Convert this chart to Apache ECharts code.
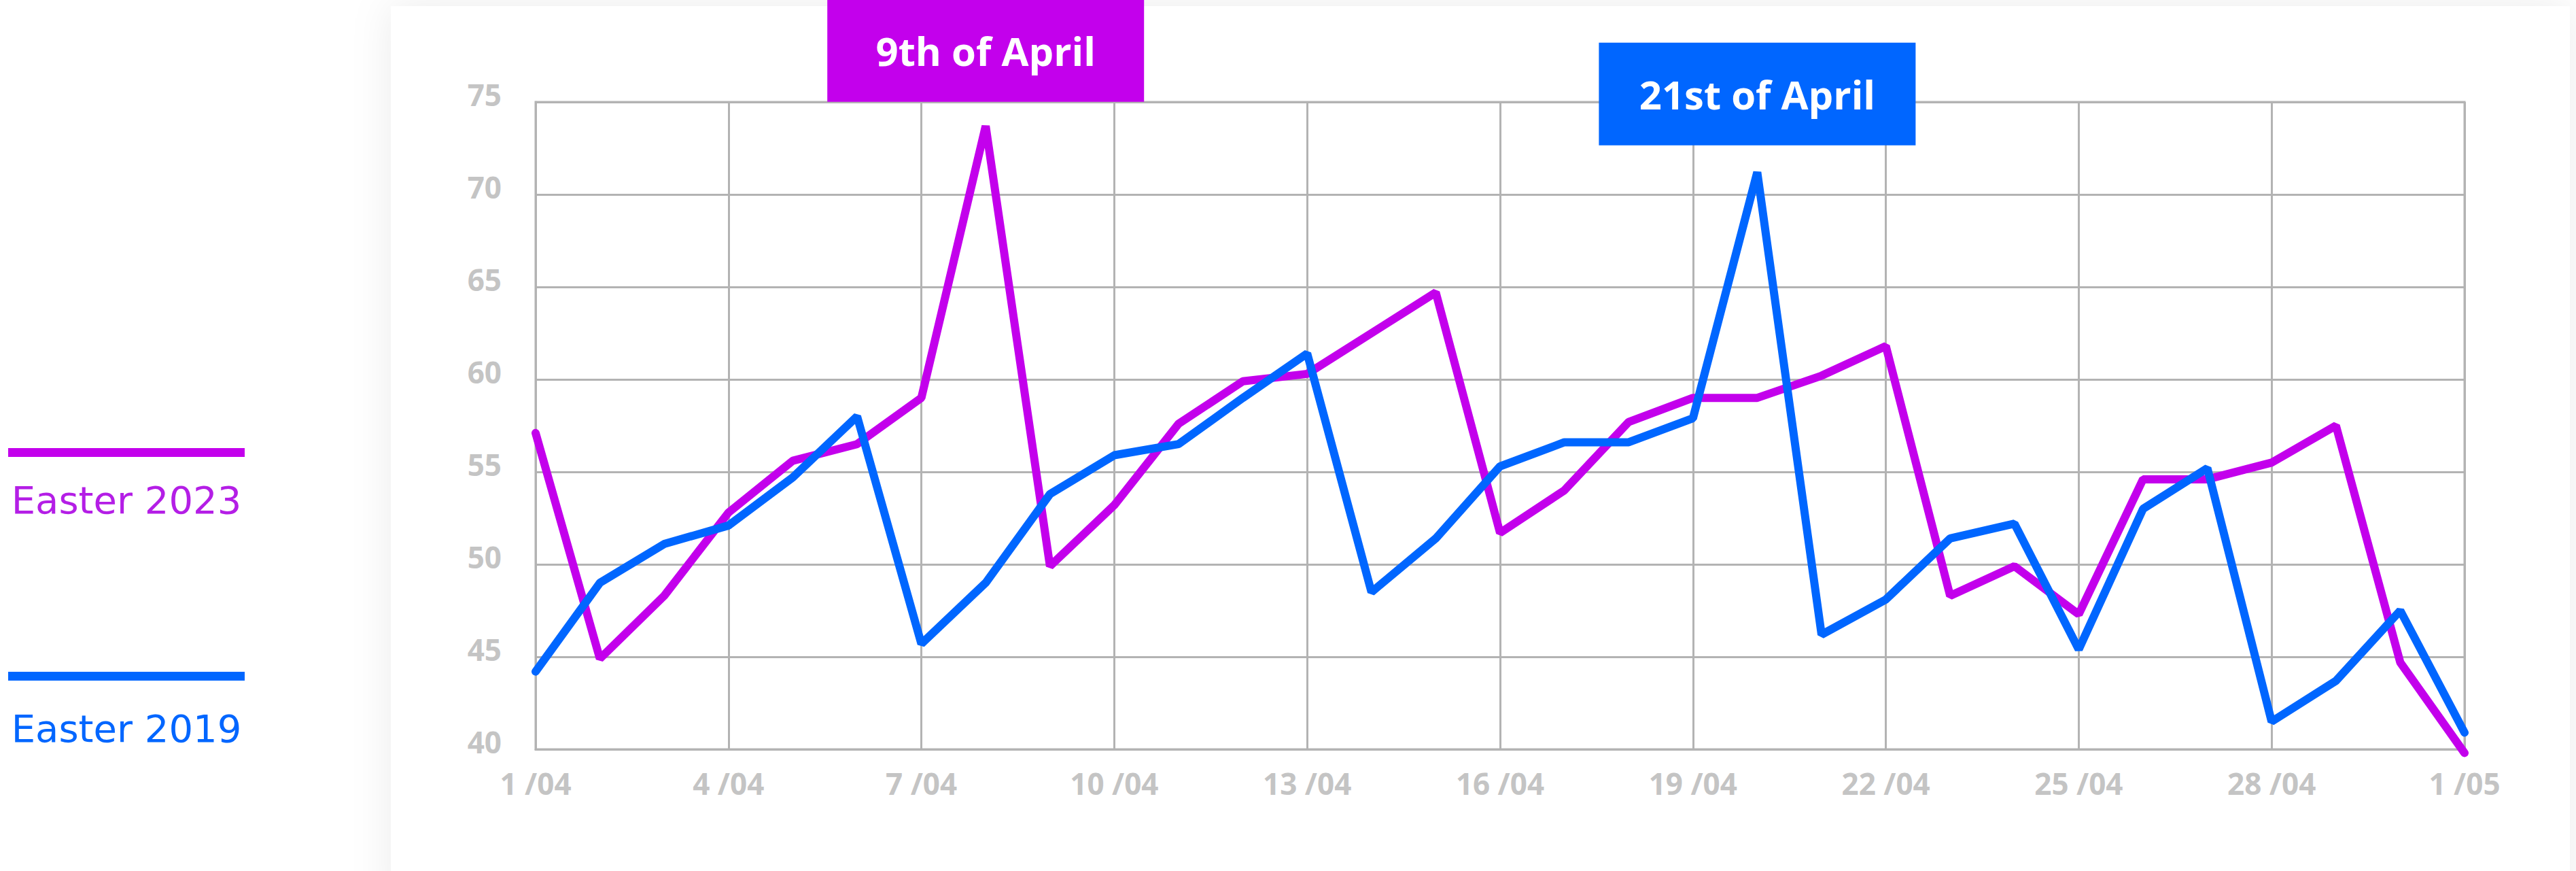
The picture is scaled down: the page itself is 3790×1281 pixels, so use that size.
<!DOCTYPE html>
<html>
<head>
<meta charset="utf-8">
<title>Easter 2023 vs Easter 2019</title>
<script src="https://cdn.jsdelivr.net/npm/echarts@6/dist/echarts.min.js"></script>
<style>
  html, body { margin: 0; padding: 0; background: #fff; }
  #main { width: 3790px; height: 1281px; }
</style>
</head>
<body>
<div id="main"></div>
<script>
var days = ['1 /04', '2 /04', '3 /04', '4 /04', '5 /04', '6 /04', '7 /04', '8 /04', '9 /04', '10 /04',
  '11 /04', '12 /04', '13 /04', '14 /04', '15 /04', '16 /04', '17 /04', '18 /04', '19 /04', '20 /04',
  '21 /04', '22 /04', '23 /04', '24 /04', '25 /04', '26 /04', '27 /04', '28 /04', '29 /04', '30 /04', '1 /05'];

var easter2023 = [57.1, 44.9, 48.3, 52.8, 55.6, 56.5, 59.0, 73.7, 49.9, 53.2,
  57.6, 59.9, 60.3, 62.5, 64.7, 51.7, 54.0, 57.7, 59.0, 59.0,
  60.2, 61.8, 48.3, 49.9, 47.3, 54.6, 54.6, 55.5, 57.5, 44.7, 39.8];

var easter2019 = [44.2, 49.0, 51.1, 52.1, 54.7, 58.0, 45.7, 49.0, 53.8, 55.9,
  56.5, 59.0, 61.4, 48.5, 51.4, 55.3, 56.6, 56.6, 57.9, 71.2,
  46.2, 48.1, 51.4, 52.2, 45.4, 53.0, 55.2, 41.5, 43.7, 47.5, 40.9];

var yTicks = [40, 45, 50, 55, 60, 65, 70, 75];
var seriesNames = ['Easter 2023', 'Easter 2019'];
var peakLabels = ['9th of April', '21st of April'];

var purple = '#c300ec';
var blue = '#0066ff';
var gridColor = '#b3b3b3';
var labelColor = '#c4c4c4';

var chart = echarts.init(document.getElementById('main'), null, { renderer: 'svg' });

// coloured box with the date, sitting above the highest point of a series
function peakBox(text, color, offsetY) {
  return {
    symbol: 'rect',
    symbolSize: [466, 151],
    symbolOffset: [0, offsetY],
    silent: true,
    itemStyle: { color: color },
    label: {
      show: true,
      position: 'inside',
      formatter: text,
      color: '#fff',
      fontFamily: 'Open Sans',
      fontWeight: 'bold',
      fontSize: 58
    },
    data: [{ type: 'max' }]
  };
}

var option = {
  animation: false,
  backgroundColor: '#fff',
  graphic: [
    {
      type: 'rect',
      z: -10,
      silent: true,
      shape: { x: 575, y: 9, width: 3206, height: 1330 },
      style: { fill: '#fff', shadowBlur: 60, shadowColor: 'rgba(0,0,0,0.08)' }
    },
    {
      type: 'rect',
      shape: { x: 12, y: 659, width: 348, height: 13 },
      style: { fill: purple }
    },
    {
      type: 'text',
      x: 186,
      y: 735,
      style: {
        text: seriesNames[0],
        fill: '#b41ee6',
        fontFamily: 'DejaVu Sans',
        fontSize: 56,
        align: 'center',
        verticalAlign: 'middle'
      }
    },
    {
      type: 'rect',
      shape: { x: 12, y: 988, width: 348, height: 13 },
      style: { fill: blue }
    },
    {
      type: 'text',
      x: 186,
      y: 1071,
      style: {
        text: seriesNames[1],
        fill: blue,
        fontFamily: 'DejaVu Sans',
        fontSize: 56,
        align: 'center',
        verticalAlign: 'middle'
      }
    }
  ],
  grid: {
    left: 788,
    right: 164,
    top: 150,
    bottom: 179,
    show: true,
    borderColor: gridColor,
    borderWidth: 3,
    backgroundColor: 'transparent'
  },
  xAxis: {
    type: 'category',
    data: days,
    boundaryGap: false,
    axisLine: { show: true, lineStyle: { color: gridColor, width: 3 } },
    axisTick: { show: false },
    splitLine: { show: true, interval: 2, lineStyle: { color: gridColor, width: 3 } },
    axisLabel: {
      interval: 2,
      margin: 28,
      color: labelColor,
      fontFamily: 'Open Sans',
      fontWeight: 'bold',
      fontSize: 44,
      lineHeight: 44
    }
  },
  yAxis: {
    type: 'value',
    min: yTicks[0],
    max: yTicks[yTicks.length - 1],
    interval: yTicks[1] - yTicks[0],
    axisLine: { show: true, lineStyle: { color: gridColor, width: 3 } },
    axisTick: { show: false },
    splitLine: { show: true, lineStyle: { color: gridColor, width: 3 } },
    axisLabel: {
      margin: 50,
      verticalAlign: 'bottom',
      lineHeight: 22,
      color: labelColor,
      fontFamily: 'Open Sans',
      fontWeight: 'bold',
      fontSize: 44
    }
  },
  series: [
    {
      name: seriesNames[0],
      type: 'line',
      data: easter2023,
      symbol: 'none',
      clip: false,
      lineStyle: { color: purple, width: 12, cap: 'round' },
      markPoint: peakBox(peakLabels[0], purple, -111)
    },
    {
      name: seriesNames[1],
      type: 'line',
      data: easter2019,
      symbol: 'none',
      clip: false,
      lineStyle: { color: blue, width: 12, cap: 'round' },
      markPoint: peakBox(peakLabels[1], blue, -115)
    }
  ]
};

chart.setOption(option);
</script>
</body>
</html>
